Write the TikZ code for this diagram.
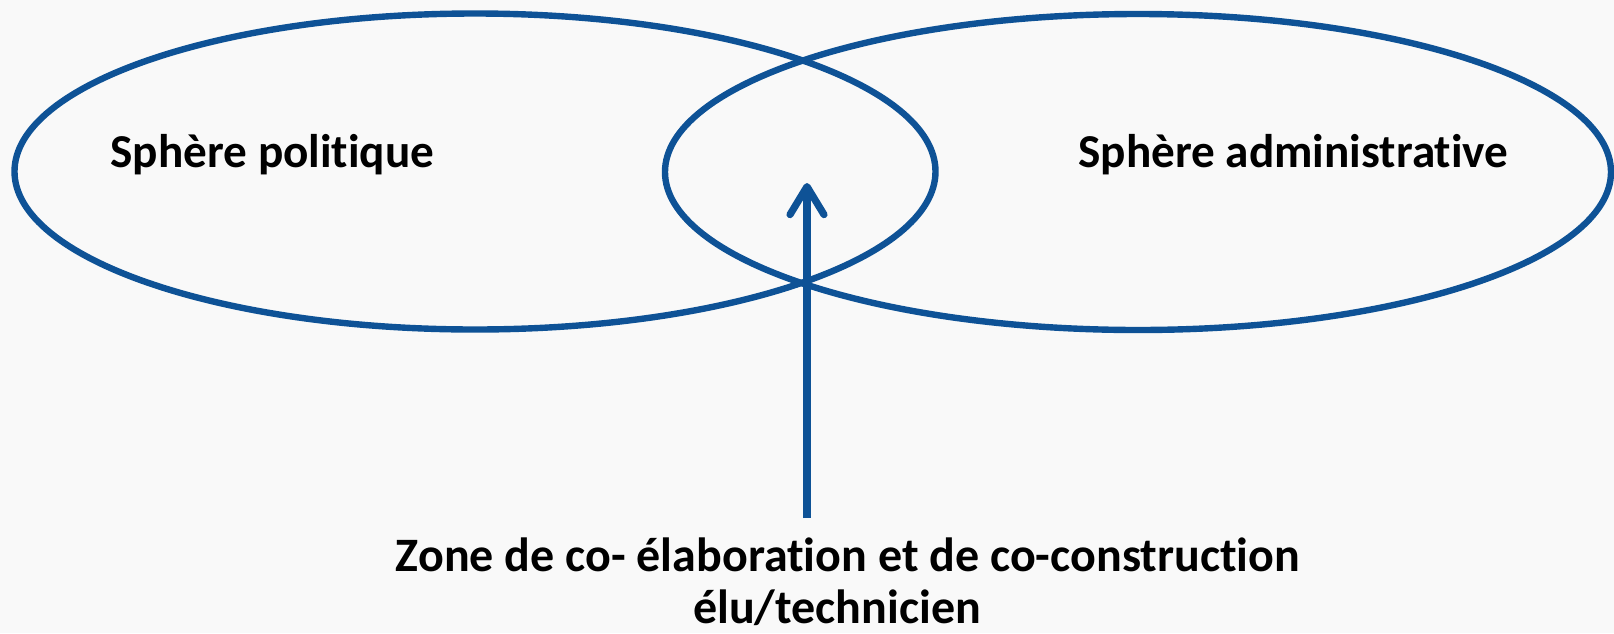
\documentclass[tikz,border=0pt]{standalone}
\usepackage{fontspec}
\setmainfont[Ligatures=NoCommon]{Carlito}
\usetikzlibrary{arrows.meta}
\definecolor{sphereblue}{RGB}{14,82,150}
\definecolor{bgpaper}{RGB}{249,249,249}
\tikzset{
  sphereline/.style={draw=sphereblue, line width=3.2pt},
  arrowline/.style={draw=sphereblue, line width=3.6pt,
    -{Straight Barb[length=14pt, width=17pt, line cap=round, line join=round]}},
  label/.style={font=\bfseries\fontsize{23.6}{24}\selectfont, text=black, inner sep=0pt},
  zonelabel/.style={font=\bfseries\fontsize{24}{24.5}\selectfont, text=black, inner sep=0pt}
}
\begin{document}
\begin{tikzpicture}[x=0.5pt, y=-0.5pt]
  \fill[bgpaper] (0,0) rectangle (1614,633);
  \useasboundingbox (0,0) rectangle (1614,633);
  % spheres
  \draw[sphereline] (475,171.5) ellipse [x radius=460.5, y radius=158];
  \draw[sphereline] (1138,172) ellipse [x radius=473, y radius=158];
  % labels
  \node[label, anchor=base] (pol) at (272.5,167) {Sphère politique};
  \node[label, anchor=base] (adm) at (1293.5,167) {Sphère administrative};
  \node[zonelabel, anchor=base] (zone) at (848,571) {Zone de co- élaboration et de co-construction};
  \node[zonelabel, anchor=base] (zonetwo) at (837,623) {élu/technicien};
  % arrow
  \coordinate (tip) at (807,183);
  \coordinate (foot) at (807,518);
  \draw[arrowline] (foot) -- (tip);
\end{tikzpicture}
\end{document}
